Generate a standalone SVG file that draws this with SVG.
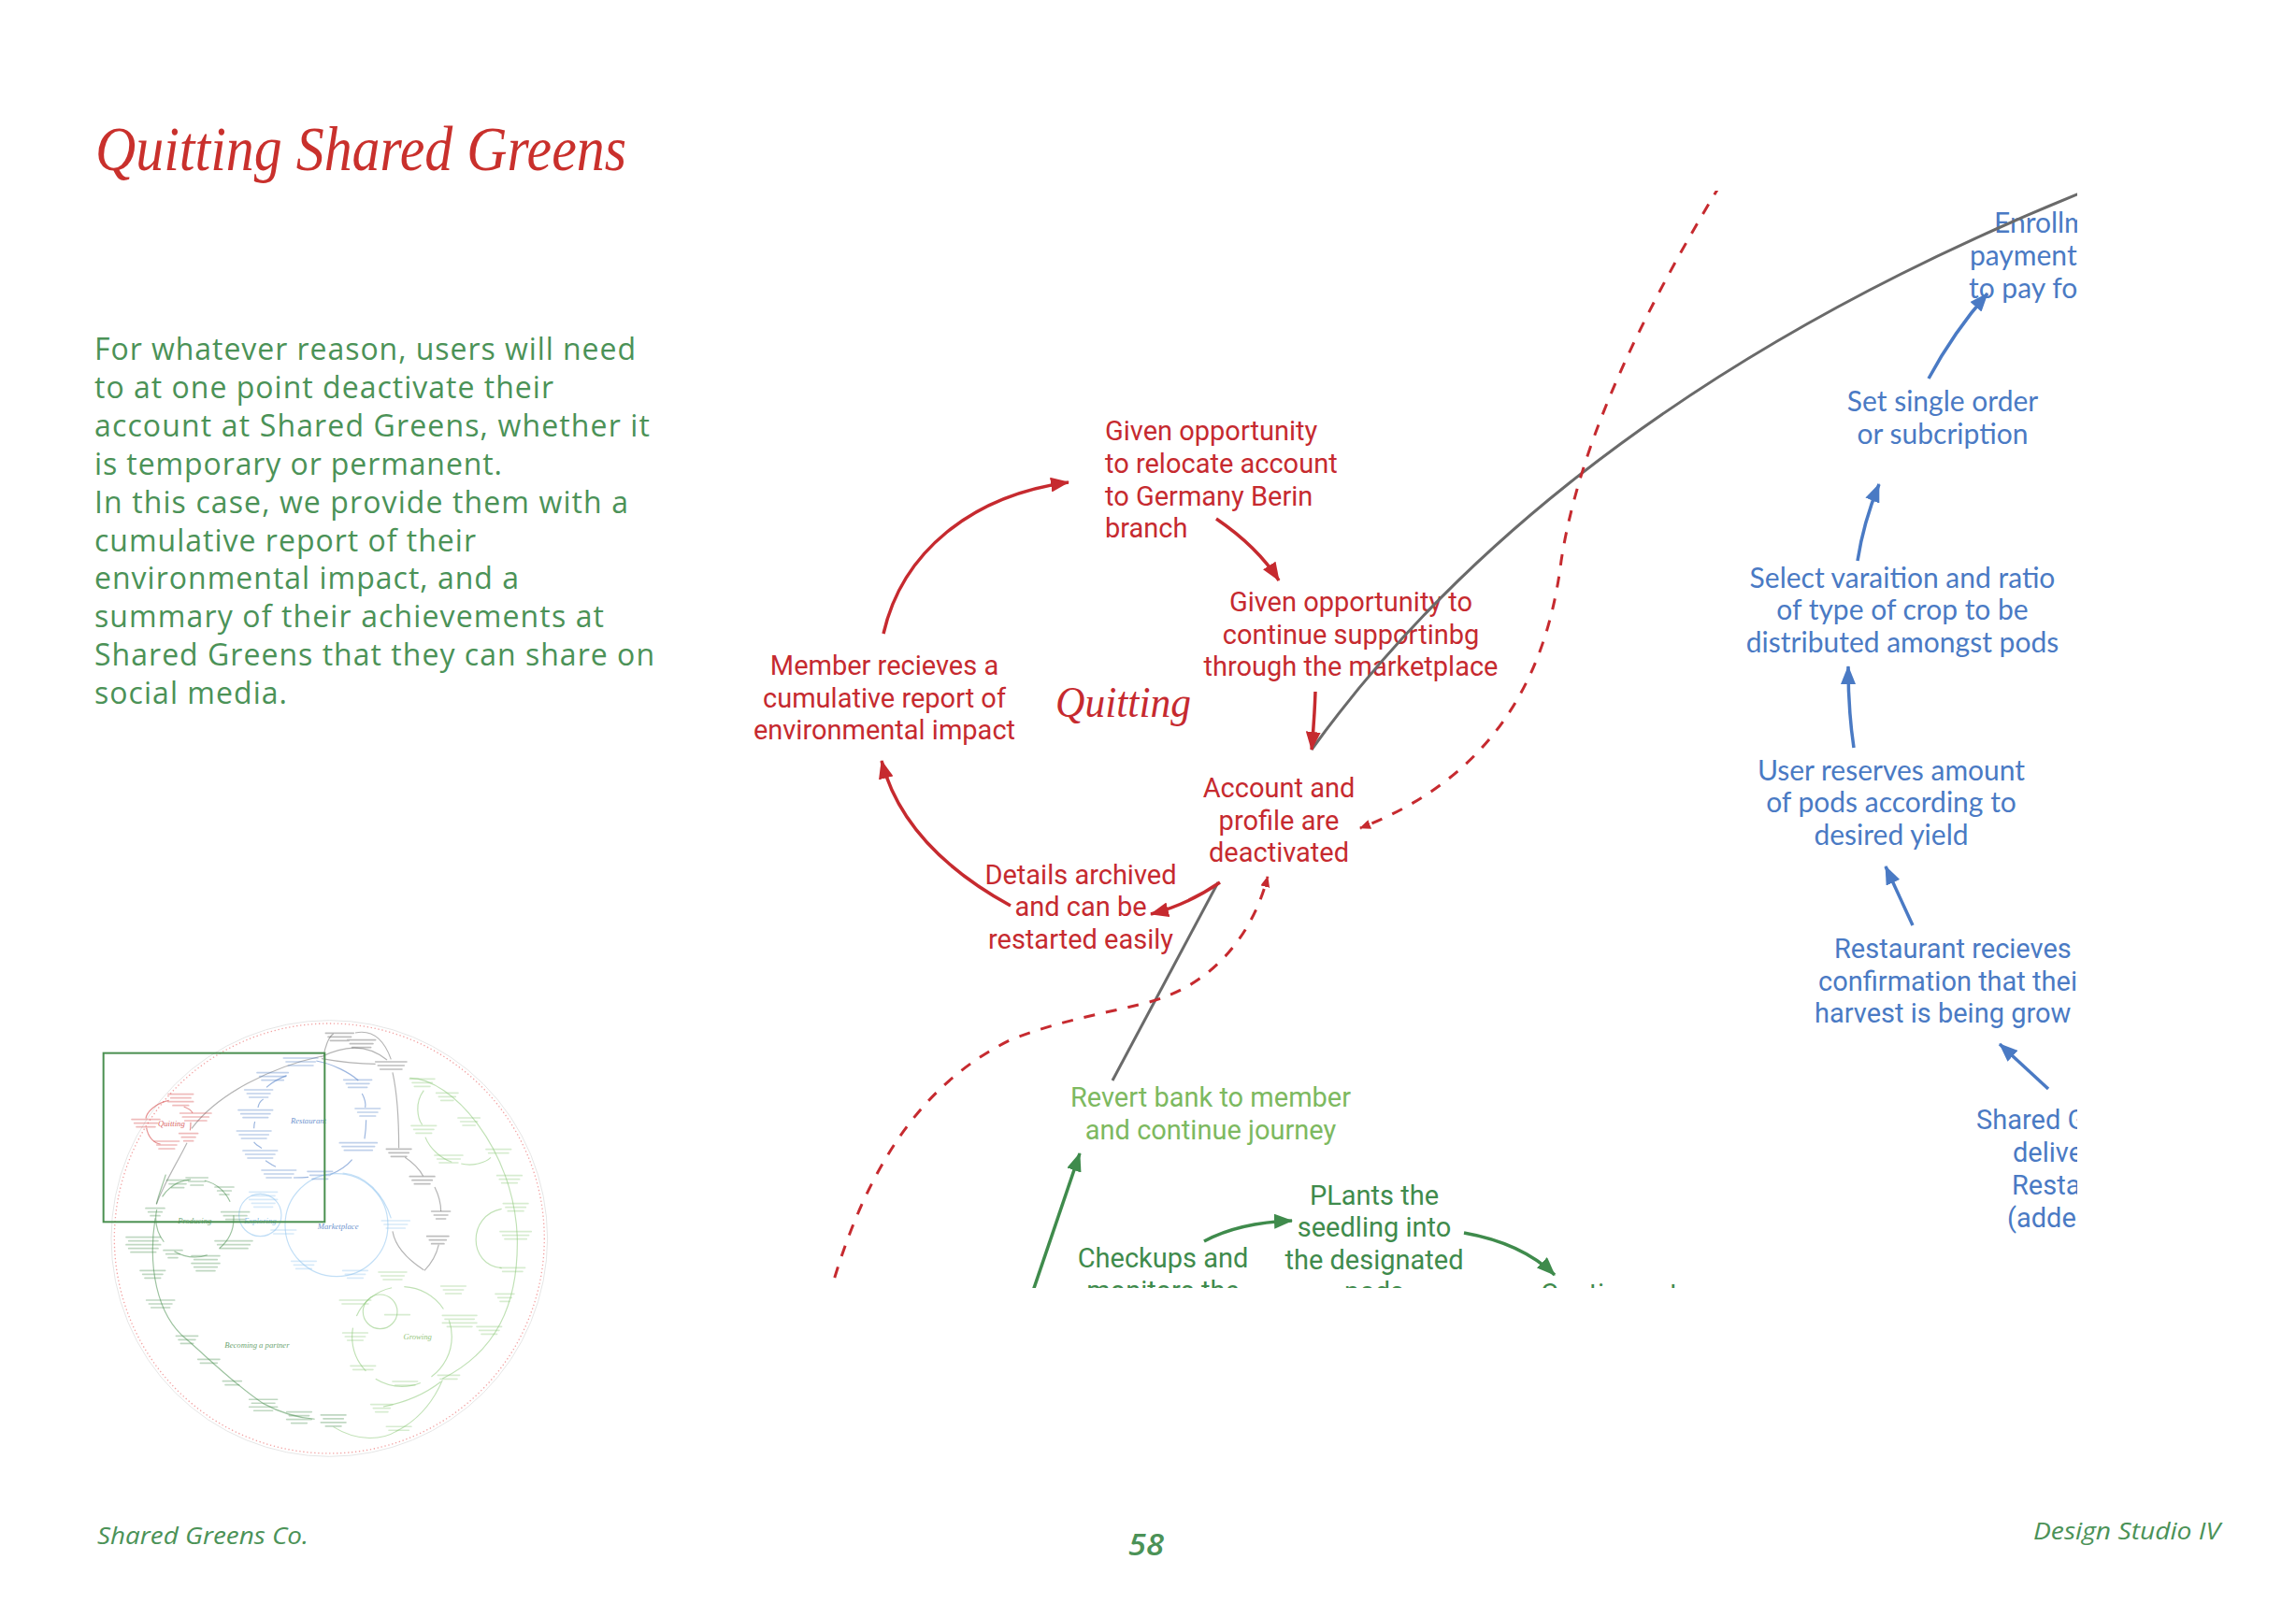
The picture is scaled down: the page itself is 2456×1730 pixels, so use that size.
<svg xmlns="http://www.w3.org/2000/svg" width="2456" height="1730" viewBox="0 0 2456 1730">
<style>
  .red { fill: #C62A2F; font-family: Roboto, "Liberation Sans", sans-serif; font-size: 29px; }
  .lgreen { fill: #7DB960; font-family: Roboto, "Liberation Sans", sans-serif; font-size: 29px; }
  .dgreen { fill: #3F8B4C; font-family: Roboto, "Liberation Sans", sans-serif; font-size: 29px; }
  .blue { fill: #4A7AC4; font-family: Lato, "Liberation Sans", sans-serif; font-size: 30px; }
  .blueR { fill: #4A7AC4; font-family: Roboto, "Liberation Sans", sans-serif; font-size: 29px; }
  .mid { text-anchor: middle; }
  .para { fill: #4B9257; font-family: "Open Sans", "Liberation Sans", sans-serif; font-size: 32px; }
  .foot { fill: #4B9257; font-family: "Open Sans", "Liberation Sans", sans-serif; font-style: italic; }
  .serif { font-family: "Liberation Serif", serif; font-style: italic; }
  .c-red { fill: none; stroke: #C62A2F; stroke-width: 3.5; marker-end: url(#ah-red); }
  .c-reddash { fill: none; stroke: #C62A2F; stroke-width: 3; stroke-dasharray: 12 12; marker-end: url(#ah-red-s); }
  .c-gray { fill: none; stroke: #6A6A6A; stroke-width: 3; }
  .c-blue { fill: none; stroke: #4A7AC4; stroke-width: 3.5; marker-end: url(#ah-blue); }
  .c-green { fill: none; stroke: #3F8B4C; stroke-width: 3.5; marker-end: url(#ah-green); }
  .mm-line { fill: none; stroke-width: 5; stroke-linecap: round; opacity: 0.35; }
  .mm-arc { fill: none; stroke-width: 3.5; opacity: 0.55; }
  .mm-label { font-family: "Liberation Serif", serif; font-style: italic; font-size: 26px; text-anchor: middle; opacity: 0.8; }
</style>
<defs>
  <marker id="ah-red" viewBox="0 0 20 16" refX="19" refY="8" markerWidth="20" markerHeight="16" markerUnits="userSpaceOnUse" orient="auto"><path d="M0,0 L20,8 L0,16 z" fill="#C62A2F"/></marker>
  <marker id="ah-red-s" viewBox="0 0 12 10" refX="11" refY="5" markerWidth="12" markerHeight="10" markerUnits="userSpaceOnUse" orient="auto"><path d="M0,0 L12,5 L0,10 z" fill="#C62A2F"/></marker>
  <marker id="ah-blue" viewBox="0 0 20 16" refX="19" refY="8" markerWidth="20" markerHeight="16" markerUnits="userSpaceOnUse" orient="auto"><path d="M0,0 L20,8 L0,16 z" fill="#4A7AC4"/></marker>
  <marker id="ah-green" viewBox="0 0 20 16" refX="19" refY="8" markerWidth="20" markerHeight="16" markerUnits="userSpaceOnUse" orient="auto"><path d="M0,0 L20,8 L0,16 z" fill="#3F8B4C"/></marker>
  <clipPath id="crop"><rect x="680" y="204" width="1542" height="1174"/></clipPath>
</defs>
<rect width="2456" height="1730" fill="#FFFFFF"/>

<text id="title" x="102" y="182" class="serif" font-size="68" fill="#C9302C" textLength="568" lengthAdjust="spacingAndGlyphs">Quitting Shared Greens</text>

<g id="intro" class="para">
  <text x="101" y="385" textLength="579">For whatever reason, users will need</text>
  <text x="101" y="426" textLength="491">to at one point deactivate their</text>
  <text x="101" y="467" textLength="594">account at Shared Greens, whether it</text>
  <text x="101" y="508" textLength="436">is temporary or permanent.</text>
  <text x="101" y="549" textLength="571">In this case, we provide them with a</text>
  <text x="101" y="590" textLength="408">cumulative report of their</text>
  <text x="101" y="630" textLength="454">environmental impact, and a</text>
  <text x="101" y="671" textLength="545">summary of their achievements at</text>
  <text x="101" y="712" textLength="599">Shared Greens that they can share on</text>
  <text x="101" y="753" textLength="206">social media.</text>
</g>

<g clip-path="url(#crop)">
  <g id="nodes">
    <g id="n-relocate" class="red">
      <text x="1182" y="471">Given opportunity</text>
      <text x="1182" y="506">to relocate account</text>
      <text x="1182" y="541">to Germany Berin</text>
      <text x="1182" y="575">branch</text>
    </g>
    <g id="n-marketplace" class="red mid">
      <text x="1445" y="654">Given opportunity to</text>
      <text x="1445" y="689">continue supportinbg</text>
      <text x="1445" y="723">through the marketplace</text>
    </g>
    <g id="n-report" class="red mid">
      <text x="946" y="722">Member recieves a</text>
      <text x="946" y="757">cumulative report of</text>
      <text x="946" y="791">environmental impact</text>
    </g>
    <g id="n-deactivated" class="red mid">
      <text x="1368" y="853">Account and</text>
      <text x="1368" y="888">profile are</text>
      <text x="1368" y="922">deactivated</text>
    </g>
    <g id="n-archived" class="red mid">
      <text x="1156" y="946">Details archived</text>
      <text x="1156" y="980">and can be</text>
      <text x="1156" y="1015">restarted easily</text>
    </g>
    <g id="n-quitting-label">
      <text x="1129" y="767" class="serif" font-size="46" fill="#C62A2F" textLength="145" lengthAdjust="spacingAndGlyphs">Quitting</text>
    </g>

    <g id="n-enrol" class="blue">
      <text x="2133" y="249">Enrollm</text>
      <text x="2107" y="284">payment</text>
      <text x="2106" y="319">to pay fo</text>
    </g>
    <g id="n-single" class="blue mid">
      <text x="2078" y="440">Set single order</text>
      <text x="2078" y="475">or subcription</text>
    </g>
    <g id="n-variation" class="blue mid">
      <text x="2035" y="629">Select varaition and ratio</text>
      <text x="2035" y="663">of type of crop to be</text>
      <text x="2035" y="698">distributed amongst pods</text>
    </g>
    <g id="n-reserve" class="blue mid">
      <text x="2023" y="835">User reserves amount</text>
      <text x="2023" y="869">of pods according to</text>
      <text x="2023" y="904">desired yield</text>
    </g>
    <g id="n-restaurant" class="blueR">
      <text x="1962" y="1025">Restaurant recieves</text>
      <text x="1945" y="1060">confirmation that thei</text>
      <text x="1941" y="1094">harvest is being grow</text>
    </g>
    <g id="n-delivers" class="blueR">
      <text x="2114" y="1208">Shared G</text>
      <text x="2153" y="1243">delive</text>
      <text x="2152" y="1278">Resta</text>
      <text x="2147" y="1313">(adde</text>
    </g>

    <g id="n-revert" class="lgreen mid">
      <text x="1295" y="1184">Revert bank to member</text>
      <text x="1295" y="1219">and continue journey</text>
    </g>
    <g id="n-checkups" class="dgreen mid">
      <text x="1244" y="1356">Checkups and</text>
      <text x="1244" y="1391">monitors the</text>
    </g>
    <g id="n-plants" class="dgreen mid">
      <text x="1470" y="1289">PLants the</text>
      <text x="1470" y="1323">seedling into</text>
      <text x="1470" y="1358">the designated</text>
      <text x="1470" y="1392">pods</text>
    </g>
    <g id="n-continues" class="dgreen">
      <text x="1648" y="1394">Continues to</text>
    </g>
  </g>

  <g id="connectors">
    <path class="c-gray" d="M1403,802 C1520,640 1750,400 2222,208 L2260,194"/>
    <path class="c-gray" d="M1303,944 L1190,1156"/>

    <path class="c-red" d="M945,678 C965,590 1040,530 1143,516"/>
    <path class="c-red" d="M1301,555 Q1345,585 1368,621"/>
    <path class="c-red" d="M1407,740 Q1406,770 1403,802"/>
    <path class="c-red" d="M1305,944 Q1270,968 1231,978"/>
    <path class="c-red" d="M1081,969 C1010,930 960,880 943,814"/>

    <path class="c-reddash" d="M1840,198 C1760,330 1690,470 1670,600 C1655,720 1600,830 1455,886"/>
    <path class="c-reddash" d="M886,1390 C925,1250 985,1160 1080,1113 C1150,1085 1215,1080 1250,1065 C1300,1045 1340,1000 1356,938"/>

    <path class="c-blue" d="M2063,405 Q2090,355 2126,314"/>
    <path class="c-blue" d="M1987,600 Q1993,560 2010,518"/>
    <path class="c-blue" d="M1983,800 Q1977,760 1977,713"/>
    <path class="c-blue" d="M2046,990 L2017,927"/>
    <path class="c-blue" d="M2191,1165 L2139,1117"/>

    <path class="c-green" d="M1102,1390 L1155,1234"/>
    <path class="c-green" d="M1288,1328 Q1325,1308 1382,1306"/>
    <path class="c-green" d="M1566,1319 Q1628,1330 1663,1364"/>
  </g>
</g>

<g id="minimap" transform="translate(90,1070) scale(0.3333)">
  <circle cx="787" cy="765" r="690" fill="none" stroke="#F2A3A3" stroke-width="4" stroke-dasharray="4 8"/>
  <circle cx="787" cy="765" r="700" fill="none" stroke="#E6E6E6" stroke-width="3"/>
  <g>
    <path class="mm-arc" stroke="#D23B3B" d="M272,322 C230,330 200,360 198,380"/>
    <path class="mm-arc" stroke="#D23B3B" d="M200,410 C205,440 225,460 245,462"/>
    <path class="mm-arc" stroke="#D23B3B" d="M320,342 C335,348 345,355 348,362"/>
    <path class="mm-arc" stroke="#D23B3B" d="M342,392 C342,400 342,408 340,418"/>
  </g>
  <g>
    <path class="mm-arc" stroke="#777" d="M762,180 C600,215 430,300 345,412"/>
    <path class="mm-arc" stroke="#777" d="M330,458 C300,520 260,580 232,655"/>
    <path class="mm-arc" stroke="#777" d="M768,185 C772,150 785,118 800,108"/>
    <path class="mm-arc" stroke="#777" d="M760,182 C830,150 900,135 972,192"/>
    <path class="mm-arc" stroke="#777" d="M762,188 C830,200 890,205 935,205"/>
    <path class="mm-arc" stroke="#777" d="M870,105 C920,95 960,120 985,190"/>
    <path class="mm-arc" stroke="#777" d="M990,232 C1005,300 1010,400 1010,475"/>
    <path class="mm-arc" stroke="#777" d="M1030,505 C1060,525 1080,550 1088,565"/>
    <path class="mm-arc" stroke="#777" d="M1125,600 C1140,630 1145,655 1145,678"/>
    <path class="mm-arc" stroke="#777" d="M1138,785 C1130,820 1110,850 1092,868"/>
    <path class="mm-arc" stroke="#777" d="M990,742 C1000,800 1050,840 1090,866"/>
  </g>
  <g>
    <path class="mm-arc" stroke="#4A7AC4" d="M745,195 C800,205 855,235 880,258"/>
    <path class="mm-arc" stroke="#4A7AC4" d="M892,300 C900,315 905,330 902,345"/>
    <path class="mm-arc" stroke="#4A7AC4" d="M905,385 C905,405 903,425 900,445"/>
    <path class="mm-arc" stroke="#4A7AC4" d="M860,512 C845,530 815,550 790,560"/>
    <path class="mm-arc" stroke="#4A7AC4" d="M720,568 C705,570 690,570 672,570"/>
    <path class="mm-arc" stroke="#4A7AC4" d="M615,535 C600,528 590,520 582,515"/>
    <path class="mm-arc" stroke="#4A7AC4" d="M570,476 C560,468 548,462 545,455"/>
    <path class="mm-arc" stroke="#4A7AC4" d="M545,412 C545,403 546,396 548,390"/>
    <path class="mm-arc" stroke="#4A7AC4" d="M558,345 C560,332 568,322 575,318"/>
    <path class="mm-arc" stroke="#4A7AC4" d="M585,280 C605,262 630,250 650,242"/>
    <circle class="mm-arc" stroke="#8EC3EE" cx="810" cy="722" r="165"/>
    <circle class="mm-arc" stroke="#8EC3EE" cx="565" cy="690" r="68"/>
    <path class="mm-arc" stroke="#8EC3EE" d="M830,555 C900,560 960,620 985,700"/>
  </g>
  <g>
    <circle class="mm-arc" stroke="#4A9050" cx="355" cy="700" r="125" stroke-dasharray="110 45"/>
    <path class="mm-arc" stroke="#4A9050" d="M228,700 C205,850 230,1010 330,1090 C410,1160 490,1240 575,1295 C630,1325 680,1340 740,1345"/>
    <path class="mm-arc" stroke="#4A9050" d="M232,655 C240,620 250,600 262,560"/>
  </g>
  <g>
    <path class="mm-arc" stroke="#8DC878" d="M1045,250 C1180,250 1380,480 1390,760 C1395,980 1320,1130 1150,1215"/>
    <path class="mm-arc" stroke="#8DC878" d="M1090,290 C1060,330 1070,380 1085,400"/>
    <path class="mm-arc" stroke="#8DC878" d="M1095,440 C1110,480 1150,510 1180,520"/>
    <path class="mm-arc" stroke="#8DC878" d="M1210,525 C1250,535 1290,520 1305,505"/>
    <circle class="mm-arc" stroke="#8DC878" cx="1020" cy="1080" r="160" stroke-dasharray="150 40"/>
    <path class="mm-arc" stroke="#8DC878" d="M1340,670 C1230,690 1230,850 1340,860"/>
    <path class="mm-arc" stroke="#8DC878" d="M800,1370 C880,1420 960,1410 1000,1385 C1070,1350 1120,1290 1150,1220"/>
    <path class="mm-arc" stroke="#8DC878" d="M960,1305 C1040,1290 1100,1260 1145,1225"/>
    <circle class="mm-arc" stroke="#8DC878" cx="950" cy="1000" r="55"/>
  </g>
  <path class="mm-line" stroke="#444" d="M775,106h90M783,118h74M790,130h60M845,128h90M853,140h74M860,152h60M935,198h100M943,210h84M950,222h70M970,478h80M978,490h64M985,502h50M1045,566h80M1053,578h64M1060,590h50M1115,678h60M1123,690h44M1130,702h30M1100,758h70M1108,770h54M1115,782h40"/>
  <path class="mm-line" stroke="#4A7AC4" d="M640,186h110M648,198h94M655,210h80M555,233h100M563,245h84M570,257h70M515,288h90M523,300h74M530,312h60M495,353h110M503,365h94M510,377h80M490,420h110M498,432h94M505,444h80M510,483h110M518,495h94M525,507h80M570,546h110M578,558h94M585,570h80M833,256h90M841,268h74M848,280h60M870,348h80M878,360h64M885,372h50M820,458h120M828,470h104M835,482h90M717,550h80M725,562h64M732,574h50"/>
  <path class="mm-line" stroke="#8EC3EE" d="M530,616h90M538,628h74M530,640h90M538,652h74M545,664h60M955,708h90M963,720h74M970,732h60M665,838h80M673,850h64M680,862h50M830,868h80M838,880h64M845,892h50M600,738h80M608,750h64"/>
  <path class="mm-line" stroke="#D23B3B" d="M270,302h80M278,314h64M270,326h80M285,338h50M308,363h100M316,375h84M323,387h70M153,383h90M161,395h74M168,407h60M225,453h80M233,465h64M240,477h50M305,428h60M313,440h44M320,452h30"/>
  <path class="mm-line" stroke="#4A9050" d="M265,578h70M273,590h54M280,602h40M327,570h70M335,582h54M342,594h40M420,600h60M428,612h44M435,624h30M198,668h60M206,680h44M213,692h30M440,680h90M448,692h74M455,704h60M420,773h120M428,785h104M435,797h90M135,761h110M143,773h94M135,785h110M143,797h94M150,809h80M255,803h60M263,815h44M270,827h30M345,821h90M353,833h74M345,845h90M353,857h74M360,869h60M180,868h80M188,880h64M195,892h50M200,963h90M208,975h74M215,987h60M295,1078h70M303,1090h54M310,1102h40M365,1153h70M373,1165h54M445,1223h60M453,1235h44M530,1282h90M538,1294h74M530,1306h90M545,1318h60M650,1322h80M658,1334h64M650,1346h80M665,1358h50M760,1332h80M768,1344h64M760,1356h80M775,1368h50"/>
  <path class="mm-line" stroke="#8DC878" d="M1045,253h80M1053,265h64M1060,277h50M1130,298h70M1138,310h54M1145,322h40M1200,378h70M1208,390h54M1215,402h40M1050,403h80M1058,415h64M1065,427h50M1125,498h90M1133,510h74M1140,522h60M1290,479h80M1298,491h64M1325,563h80M1333,575h64M1340,587h50M1345,653h80M1353,665h64M1360,677h50M1335,743h100M1343,755h84M1350,767h70M1335,859h80M1343,871h64M1320,943h60M1328,955h44M1335,967h30M1260,1048h80M1268,1060h64M1275,1072h50M945,873h90M953,885h74M960,897h60M1145,918h80M1153,930h64M1160,942h50M820,963h100M828,975h84M965,1010h80M1150,1012h110M1158,1024h94M1150,1036h110M1165,1048h80M830,1068h80M838,1080h64M845,1092h50M855,1174h80M863,1186h64M990,1224h80M998,1236h64M1135,1204h70M1143,1216h54M920,1298h70M928,1310h54M935,1322h40M970,1369h80M978,1381h64"/>
  <text class="mm-label" x="280" y="405" fill="#D23B3B">Quitting</text>
  <text class="mm-label" x="720" y="395" fill="#4A7AC4">Restaurant</text>
  <text class="mm-label" x="815" y="735" fill="#4A7AC4">Marketplace</text>
  <text class="mm-label" x="565" y="718" fill="#6FAEE0">Exploring</text>
  <text class="mm-label" x="355" y="718" fill="#4A9050">Producing</text>
  <text class="mm-label" x="555" y="1115" fill="#4A9050">Becoming a partner</text>
  <text class="mm-label" x="1070" y="1090" fill="#7DB960">Growing</text>
  <rect x="62" y="170" width="710" height="542" fill="none" stroke="#4A9050" stroke-width="6"/>
</g>

<g id="footer">
  <text x="104" y="1652" class="foot" font-size="25" textLength="226" lengthAdjust="spacingAndGlyphs">Shared Greens Co.</text>
  <text x="1207" y="1664" class="foot" font-size="33" font-weight="600" textLength="38" lengthAdjust="spacingAndGlyphs">58</text>
  <text x="2175" y="1647" class="foot" font-size="25" textLength="200" lengthAdjust="spacingAndGlyphs">Design Studio IV</text>
</g>
</svg>
